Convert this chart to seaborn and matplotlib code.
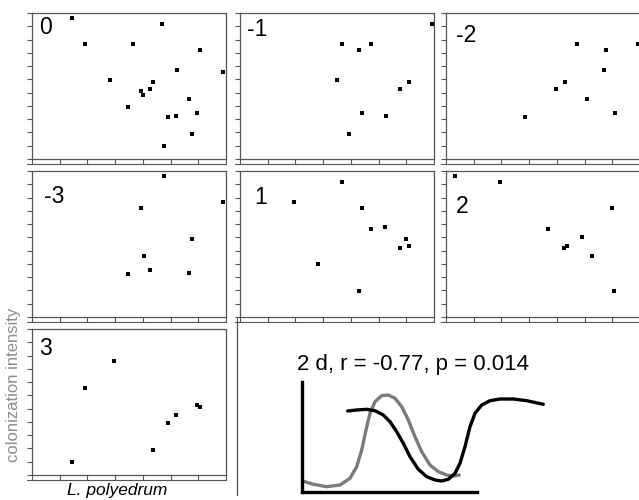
import matplotlib
matplotlib.use("Agg")
import matplotlib.pyplot as plt
from matplotlib.lines import Line2D
import seaborn as sns
import pandas as pd

sns.set_style("ticks")
plt.rcParams['font.family'] = ['Liberation Sans', 'DejaVu Sans']

# ---- data: lag panels (x = L. polyedrum, y = colonization intensity) ----
lags = ["0", "-1", "-2", "-3", "1", "2", "3"]

x_0 = [1.43, 1.93, 4.68, 3.65, 6.05, 2.81, 5.23, 6.90, 4.35, 3.95, 3.99, 4.27, 3.48, 5.68, 4.89, 5.21, 5.97, 5.76, 4.77]
y_0 = [10.60, 8.64, 10.18, 8.64, 8.22, 5.93, 6.73, 6.56, 5.80, 5.15, 4.82, 5.25, 3.89, 4.52, 3.19, 3.24, 3.49, 1.91, 0.98]

x_m1 = [6.92, 3.68, 4.28, 4.71, 3.49, 6.08, 5.78, 4.39, 5.25, 3.95]
y_m1 = [10.18, 8.64, 8.22, 8.64, 5.93, 5.80, 5.25, 3.49, 3.24, 1.91]

x_m2 = [4.71, 5.79, 6.93, 5.70, 4.30, 3.98, 5.10, 6.08, 2.85]
y_m2 = [8.64, 8.22, 8.64, 6.73, 5.80, 5.25, 4.52, 3.49, 3.19]

x_m3 = [4.77, 3.95, 6.90, 5.76, 4.03, 3.48, 4.27, 5.68]
y_m3 = [10.63, 8.25, 8.68, 5.90, 4.60, 3.25, 3.55, 3.35]

x_p1 = [3.68, 1.94, 4.39, 4.71, 5.23, 6.00, 5.78, 6.08, 2.82, 4.28]
y_p1 = [10.20, 8.68, 8.25, 6.60, 6.80, 5.90, 5.20, 5.33, 4.00, 1.95]

x_p2 = [0.31, 1.94, 5.98, 3.67, 4.90, 4.27, 4.37, 5.25, 6.06]
y_p2 = [10.63, 10.20, 8.25, 6.60, 6.00, 5.20, 5.33, 4.60, 1.95]

x_p3 = [2.97, 1.93, 1.43, 5.97, 6.05, 5.21, 4.89, 4.35]
y_p3 = [8.62, 6.56, 1.01, 5.28, 5.15, 4.52, 3.94, 1.91]

panel_x = [x_0, x_m1, x_m2, x_m3, x_p1, x_p2, x_p3]
panel_y = [y_0, y_m1, y_m2, y_m3, y_p1, y_p2, y_p3]

# ---- inset schematic curves ----
gray_t = [0.3, 11.3, 24.7, 38, 48, 54.7, 59.7, 64, 68, 73, 79.7, 86.3, 93, 99.7, 106.3, 113, 119.7, 128, 136.3, 144.7, 151.3, 157.3]
gray_v = [11, 7.7, 5.3, 7, 13.7, 25.3, 42, 62, 78.7, 90.3, 96.3, 97, 93.7, 85.3, 72, 55.3, 40.3, 27, 20.3, 17, 16, 17]
black_t = [45.7, 54.7, 64.7, 73, 81.3, 88, 94.7, 101.3, 108, 116.3, 124.7, 133, 139.7, 146.3, 153, 158, 163, 168, 173, 179.7, 188, 198, 211.3, 224.7, 241.3]
black_v = [81, 82, 82.7, 81.3, 77, 70.3, 60.3, 48.7, 35.3, 22.7, 15.3, 12, 11, 12.7, 18.7, 28.7, 45.3, 65.3, 78.7, 87, 91.3, 93, 93, 91.3, 87.7]

inset_title = "2 d, r = -0.77, p = 0.014"
ylabel = "colonization intensity"
xlabel = "L. polyedrum"

W, H = 639, 500
fig = plt.figure(figsize=(W / 100, H / 100), dpi=100)

def fx(px):
    return px / W

def fy(py):
    return 1 - py / H

# layout (pixels)
col_left = [32, 240, 446]
row_top = [13, 171, 329]
pw, ph = 194, 146
grid = [(0, 0), (0, 1), (0, 2), (1, 0), (1, 1), (1, 2), (2, 0)]
label_off = [(7, 3), (7, 5), (10, 11), (12, 14), (14, 15), (10, 24), (7, 8)]

spine_c = "#555555"
for i, lag in enumerate(lags):
    r, c = grid[i]
    L, T = col_left[c], row_top[r]
    ax = fig.add_axes([fx(L), fy(T + ph), pw / W, ph / H])
    df = pd.DataFrame({"x": panel_x[i], "y": panel_y[i]})
    sns.scatterplot(data=df, x="x", y="y", ax=ax, marker="s", color="black",
                    s=7, linewidth=0, clip_on=False)
    ax.set_xlim(0, 7)
    ax.set_ylim(0, 11)
    ax.set_xticks(range(0, 8))
    ax.set_yticks(range(0, 12))
    ax.set_xticklabels([])
    ax.set_yticklabels([])
    ax.set_xlabel("")
    ax.set_ylabel("")
    ax.tick_params(direction="out", length=3.5, width=0.8, colors=spine_c)
    for s in ax.spines.values():
        s.set_color(spine_c)
        s.set_linewidth(0.9)
    ox, oy = label_off[i]
    ax.text(ox / pw, 1 - oy / ph, lag, transform=ax.transAxes, ha="left",
            va="top", fontsize=16.5, color="black")
    # line joining the bottom tick ends
    fig.add_artist(Line2D([fx(L - 5), fx(L + pw)], [fy(T + ph + 5)] * 2,
                          color=spine_c, lw=0.8))

fig.add_artist(Line2D([fx(237), fx(237)], [fy(318), fy(495)], color=spine_c, lw=0.9))

fig.text(fx(14), fy(385), ylabel, rotation=90, ha="center", va="center",
         fontsize=12, color="#8c8c8c")
fig.text(fx(117), fy(491), xlabel, ha="center", va="center", fontsize=12.5,
         style="italic", color="black")

# inset
iax = fig.add_axes([fx(302), fy(492), 245 / W, 110 / H])
gdf = pd.DataFrame({"t": gray_t, "v": gray_v})
bdf = pd.DataFrame({"t": black_t, "v": black_v})
sns.lineplot(data=gdf, x="t", y="v", ax=iax, color="#7a7a7a", lw=2.4, sort=False,
             solid_joinstyle="round", solid_capstyle="round")
sns.lineplot(data=bdf, x="t", y="v", ax=iax, color="black", lw=2.4, sort=False,
             solid_joinstyle="round", solid_capstyle="round")
iax.set_xlim(0, 245)
iax.set_ylim(0, 110)
iax.set_xticks([])
iax.set_yticks([])
iax.set_xlabel("")
iax.set_ylabel("")
iax.spines["top"].set_visible(False)
iax.spines["right"].set_visible(False)
for s in ("left", "bottom"):
    iax.spines[s].set_color("black")
    iax.spines[s].set_linewidth(2.4)
iax.spines["bottom"].set_bounds(0, 175)
iax.patch.set_alpha(0)
fig.text(fx(297), fy(370), inset_title, ha="left", va="baseline", fontsize=16,
         color="black")

fig.savefig("out.png", dpi=100)
